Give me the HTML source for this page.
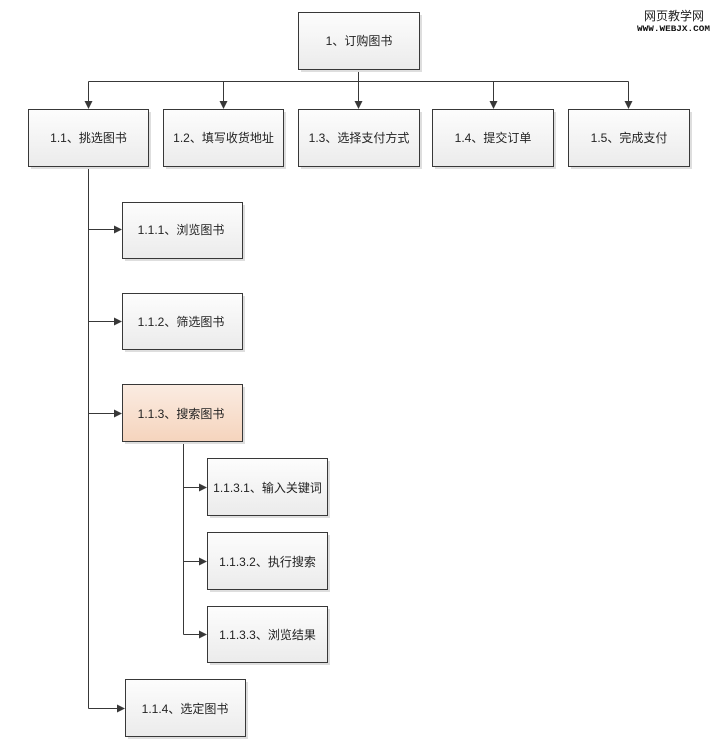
<!DOCTYPE html>
<html><head><meta charset="utf-8">
<style>
html,body{margin:0;padding:0;background:#fff;}
svg{display:block;}
text{font-family:"Liberation Sans","Noto Sans CJK SC",sans-serif;font-size:12px;fill:#222;}
</style></head>
<body>
<svg width="720" height="750" viewBox="0 0 720 750" xmlns="http://www.w3.org/2000/svg">
<defs>
<linearGradient id="g" x1="0" y1="0" x2="0" y2="1">
<stop offset="0" stop-color="#fdfdfd"/><stop offset="1" stop-color="#ebebeb"/>
</linearGradient>
<linearGradient id="o" x1="0" y1="0" x2="0" y2="1">
<stop offset="0" stop-color="#fbece2"/><stop offset="1" stop-color="#f5d4bd"/>
</linearGradient>
</defs>
<!-- connectors -->
<g stroke="#383838" stroke-width="1" fill="none">
<path d="M358.5 69V81.5M88.5 81.5H628.5"/>
<path d="M88.5 81.5V102M223.5 81.5V102M358.5 81.5V102M493.5 81.5V102M628.5 81.5V102"/>
<path d="M88.5 166V708.5M88.5 229.5H115M88.5 321.5H115M88.5 413.5H115M88.5 708.5H118"/>
<path d="M183.5 441V634.5M183.5 487.5H200M183.5 561.5H200M183.5 634.5H200"/>
</g>
<g fill="#383838">
<path d="M84.5 101L92.5 101L88.5 109Z"/>
<path d="M219.5 101L227.5 101L223.5 109Z"/>
<path d="M354.5 101L362.5 101L358.5 109Z"/>
<path d="M489.5 101L497.5 101L493.5 109Z"/>
<path d="M624.5 101L632.5 101L628.5 109Z"/>
<path d="M114 225.5L114 233.5L122 229.5Z"/>
<path d="M114 317.5L114 325.5L122 321.5Z"/>
<path d="M114 409.5L114 417.5L122 413.5Z"/>
<path d="M117 704.5L117 712.5L125 708.5Z"/>
<path d="M199 483.5L199 491.5L207 487.5Z"/>
<path d="M199 557.5L199 565.5L207 561.5Z"/>
<path d="M199 630.5L199 638.5L207 634.5Z"/>
</g>
<!-- shadows -->
<g fill="#dedede">
<rect x="301" y="15" width="121" height="57"/>
<rect x="31" y="112" width="120" height="57"/>
<rect x="166" y="112" width="120" height="57"/>
<rect x="301" y="112" width="121" height="57"/>
<rect x="435" y="112" width="121" height="57"/>
<rect x="571" y="112" width="121" height="57"/>
<rect x="125" y="205" width="120" height="56"/>
<rect x="125" y="296" width="120" height="56"/>
<rect x="125" y="387" width="120" height="57"/>
<rect x="210" y="461" width="120" height="57"/>
<rect x="210" y="535" width="120" height="57"/>
<rect x="210" y="609" width="120" height="56"/>
<rect x="128" y="682" width="120" height="57"/>
</g>
<!-- boxes -->
<g stroke="#383838" stroke-width="1" fill="url(#g)">
<rect x="298.5" y="12.5" width="121" height="57"/>
<rect x="28.5" y="109.5" width="120" height="57"/>
<rect x="163.5" y="109.5" width="120" height="57"/>
<rect x="298.5" y="109.5" width="121" height="57"/>
<rect x="432.5" y="109.5" width="121" height="57"/>
<rect x="568.5" y="109.5" width="121" height="57"/>
<rect x="122.5" y="202.5" width="120" height="56"/>
<rect x="122.5" y="293.5" width="120" height="56"/>
<rect x="122.5" y="384.5" width="120" height="57" fill="url(#o)"/>
<rect x="207.5" y="458.5" width="120" height="57"/>
<rect x="207.5" y="532.5" width="120" height="57"/>
<rect x="207.5" y="606.5" width="120" height="56"/>
<rect x="125.5" y="679.5" width="120" height="57"/>
</g>
<!-- labels -->
<g text-anchor="middle">
<text x="359" y="45">1、订购图书</text>
<text x="88.5" y="142">1.1、挑选图书</text>
<text x="223.5" y="142">1.2、填写收货地址</text>
<text x="359" y="142">1.3、选择支付方式</text>
<text x="493" y="142">1.4、提交订单</text>
<text x="629" y="142">1.5、完成支付</text>
<text x="181" y="234">1.1.1、浏览图书</text>
<text x="181" y="326">1.1.2、筛选图书</text>
<text x="181" y="418">1.1.3、搜索图书</text>
<text x="267.5" y="492">1.1.3.1、输入关键词</text>
<text x="267.5" y="566">1.1.3.2、执行搜索</text>
<text x="267.5" y="639">1.1.3.3、浏览结果</text>
<text x="185" y="713">1.1.4、选定图书</text>
</g>
<!-- watermark -->
<text x="674" y="20" text-anchor="middle" style="font-size:12px;fill:#222;">网页教学网</text>
<text x="637" y="31" textLength="73" lengthAdjust="spacingAndGlyphs" style="font-family:'Liberation Mono',monospace;font-size:8.5px;font-weight:bold;fill:#111;">WWW.WEBJX.COM</text>
</svg>
</body></html>
